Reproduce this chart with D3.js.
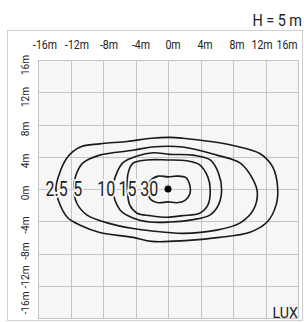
<!DOCTYPE html>
<html>
<head>
<meta charset="utf-8">
<script src="https://cdn.jsdelivr.net/npm/d3@7"></script>
<style>
  body { margin: 0; background: #fff; }
  text { font-family: Roboto, "DejaVu Sans Condensed", sans-serif; fill: #222; }
</style>
</head>
<body>
<script>
  // grid ticks (metres)
  var xTicks = [-16, -12, -8, -4, 0, 4, 8, 12, 16];
  var yTicks = [16, 12, 8, 4, 0, -4, -8, -12, -16];

  // isolux levels and where their labels sit on the x axis (metres)
  var levels = [2.5, 5, 10, 15, 30];
  var labelX = [-13.7, -11.1, -7.6, -5.0, -2.3];

  // contour outlines, [x, y] in metres
  var lux2_5 = [[-13.8, 0], [-13.5, 1.5], [-12.4, 3.9], [-10.8, 5.2], [-8.4, 5.6], [-5.0, 5.9], [-2.0, 6.3],
    [0.2, 6.4], [1.8, 6.3], [5.2, 5.9], [8.0, 5.4], [11.3, 4.4], [12.9, 2.7], [13.5, 0.1], [13.3, -2.0],
    [12.2, -4.1], [10.0, -5.4], [6.3, -6.0], [2.1, -6.4], [-2.0, -6.5], [-4.3, -6.0], [-8.4, -5.4],
    [-10.8, -4.5], [-12.4, -3.5], [-13.5, -1.4]];
  var lux5 = [[-11.6, 0.1], [-11.4, 1.5], [-10.5, 3.2], [-8.4, 4.2], [-4.3, 4.8], [-2.0, 5.2], [1.8, 5.2],
    [6.0, 4.2], [8.9, 3.2], [10.5, 1.1], [11.0, -0.5], [10.5, -2.6], [8.9, -4.2], [6.0, -5.1], [1.8, -5.5],
    [-2.0, -5.2], [-4.3, -4.9], [-7.5, -4.2], [-10.0, -3.2], [-11.2, -1.8]];
  var lux10 = [[-6.8, -0.1], [-6.3, 2.0], [-5.5, 3.3], [-3.8, 4.1], [-1.8, 4.5], [0.2, 4.3], [3.1, 4.2],
    [5.2, 3.6], [6.2, 2.0], [6.6, -0.1], [6.2, -2.0], [5.2, -3.2], [3.1, -3.8], [0.2, -4.1], [-2.2, -4.1],
    [-4.3, -3.6], [-5.9, -2.6]];
  var lux15 = [[-5.0, -0.1], [-4.9, 2.0], [-4.3, 3.2], [-2.6, 3.6], [-0.1, 3.6], [2.3, 3.5], [3.9, 3.0],
    [4.9, 1.5], [5.2, -0.1], [4.9, -2.0], [3.9, -3.0], [1.8, -3.3], [-0.1, -3.5], [-2.2, -3.3],
    [-3.8, -3.0], [-4.7, -2.0]];
  var lux30 = [[-2.5, -0.1], [-2.2, 1.0], [-1.2, 1.6], [0, 1.5], [1.1, 1.6], [2.2, 1.4], [2.7, 0.4],
    [2.7, -0.6], [2.1, -1.4], [1.1, -1.7], [0, -1.6], [-1.2, -1.7], [-2.2, -1.2]];
  var contours = [lux2_5, lux5, lux10, lux15, lux30];

  var width = 304, height = 322;
  var plotBg = "#f6f6f6";

  var svg = d3.select("body").append("svg")
    .attr("width", width)
    .attr("height", height);

  var x = d3.scaleLinear().domain([-16, 16]).range([38, 298]);
  var y = d3.scaleLinear().domain([16, -16]).range([60, 318]);

  // tick labels are not centred on the lines in the original
  var xLab = d3.scaleLinear().domain([-16, 8, 16]).range([45, 237, 287]);
  var yLab = d3.scaleLinear().domain([16, -4, -16]).range([65, 225, 303]);

  // squeezed text, the original uses a condensed face
  function narrow(px, py, sx, rot) {
    return "translate(" + px + "," + py + ")" + (rot ? " rotate(" + rot + ")" : "") + " scale(" + sx + ",1)";
  }

  // frame
  svg.append("rect")
    .attr("x", 7.5).attr("y", 30.5)
    .attr("width", 295).attr("height", 290)
    .attr("fill", "#fff")
    .attr("stroke", "#d0d0d0");

  svg.append("text")
    .attr("transform", narrow(302, 26, 0.9))
    .attr("text-anchor", "end")
    .style("font-size", "16px")
    .text("H = 5 m");

  svg.append("rect")
    .attr("x", x(-16)).attr("y", y(16))
    .attr("width", x(16) - x(-16)).attr("height", y(-16) - y(16))
    .attr("fill", plotBg);

  svg.selectAll(".vgrid")
    .data(xTicks)
    .enter()
    .append("line")
      .attr("class", "vgrid")
      .attr("x1", function(d) { return Math.round(x(d)) + 0.5; })
      .attr("x2", function(d) { return Math.round(x(d)) + 0.5; })
      .attr("y1", y(16))
      .attr("y2", y(-16))
      .attr("stroke", "#c4c4c4");

  svg.selectAll(".hgrid")
    .data(yTicks)
    .enter()
    .append("line")
      .attr("class", "hgrid")
      .attr("y1", function(d) { return Math.round(y(d)) + 0.5; })
      .attr("y2", function(d) { return Math.round(y(d)) + 0.5; })
      .attr("x1", x(-16))
      .attr("x2", x(16))
      .attr("stroke", "#c4c4c4");

  svg.selectAll(".xlab")
    .data(xTicks)
    .enter()
    .append("text")
      .attr("class", "xlab")
      .attr("transform", function(d) { return narrow(xLab(d), 49, 0.88); })
      .attr("text-anchor", "middle")
      .style("font-size", "12px")
      .text(function(d) { return d + "m"; });

  svg.selectAll(".ylab")
    .data(yTicks)
    .enter()
    .append("text")
      .attr("class", "ylab")
      .attr("transform", function(d) { return narrow(25, yLab(d), 0.88, -90); })
      .attr("dy", "0.35em")
      .attr("text-anchor", "middle")
      .style("font-size", "11.5px")
      .text(function(d) { return d + "m"; });

  var line = d3.line()
    .x(function(d) { return x(d[0]); })
    .y(function(d) { return y(d[1]); })
    .curve(d3.curveCatmullRomClosed.alpha(0.5));

  svg.selectAll(".iso")
    .data(contours)
    .enter()
    .append("path")
      .attr("class", "iso")
      .attr("d", line)
      .attr("fill", "none")
      .attr("stroke", "#1a1a1a")
      .attr("stroke-width", 1.6);

  svg.selectAll(".isolab")
    .data(levels)
    .enter()
    .append("text")
      .attr("class", "isolab")
      .attr("transform", function(d, i) { return narrow(x(labelX[i]), y(0), 0.82); })
      .attr("dy", "0.36em")
      .attr("text-anchor", "middle")
      .style("font-size", "19.5px")
      .style("paint-order", "stroke")
      .attr("stroke", plotBg)
      .attr("stroke-width", 4)
      .text(function(d) { return d; });

  svg.append("circle")
    .attr("cx", x(0)).attr("cy", y(0))
    .attr("r", 3.5)
    .attr("fill", "#000");

  svg.append("text")
    .attr("transform", narrow(298, 318, 0.95))
    .attr("text-anchor", "end")
    .style("font-size", "15px")
    .text("LUX");
</script>
</body>
</html>
